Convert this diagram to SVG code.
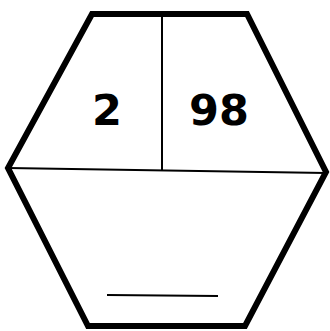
<svg xmlns="http://www.w3.org/2000/svg" width="330" height="331" viewBox="0 0 330 331">
<style>
.outer{fill:#fff;stroke:#000;stroke-width:6;stroke-linejoin:miter}
.thin{stroke:#000;stroke-width:2;fill:none}
.num{font-family:"DejaVu Sans","Liberation Sans",sans-serif;font-weight:bold;font-size:43px;fill:#000;text-anchor:middle}
</style>
<rect width="330" height="331" fill="#fff"/>
<g id="hexagon">
<polygon class="outer" points="92,14 247,14 326,172 245,326 88,326 8,168"/>
</g>
<g id="connectors">
<line class="thin" x1="8" y1="168" x2="326" y2="173"/>
<line class="thin" x1="162" y1="14" x2="162" y2="171"/>
<line class="thin" x1="107" y1="295" x2="218" y2="296"/>
</g>
<g id="left-cell"><text class="num" x="107" y="125">2</text></g>
<g id="right-cell"><text class="num" x="219" y="125">98</text></g>
</svg>
